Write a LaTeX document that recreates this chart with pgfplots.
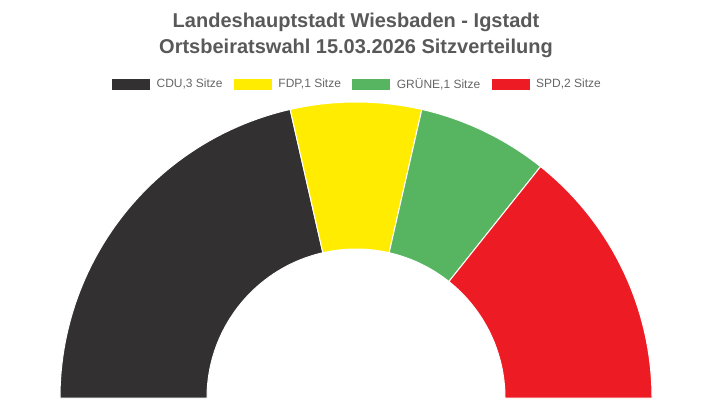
\documentclass[border=0pt]{standalone}
\usepackage{pgfplots}
\pgfplotsset{compat=1.18}
\usepackage{fontspec}
\setmainfont{Liberation Sans}

\definecolor{cducol}{HTML}{323031}
\definecolor{fdpcol}{HTML}{FFEC00}
\definecolor{gruencol}{HTML}{57B562}
\definecolor{spdcol}{HTML}{ED1C24}
\definecolor{titlegray}{HTML}{595959}
\definecolor{legendgray}{HTML}{666666}

\begin{document}
\begin{tikzpicture}
% seats: CDU 3, FDP 1, GRUENE 1, SPD 2 -> 7 seats on 180 degrees
\pgfmathsetmacro{\seatdeg}{180/(3+1+1+2)}
\pgfmathsetmacro{\aCDU}{180-3*\seatdeg}
\pgfmathsetmacro{\aFDP}{\aCDU-1*\seatdeg}
\pgfmathsetmacro{\aGRUEN}{\aFDP-1*\seatdeg}
\def\Ro{296bp}
\def\Ri{149bp}
\begin{axis}[
    x=1bp, y=1bp,
    xmin=0, xmax=712, ymin=0, ymax=400,
    hide axis, clip=false,
    legend image code/.code={\fill[#1] (0bp,-5bp) rectangle (37bp,5bp);},
    legend columns=4,
    legend cell align=left,
    legend style={at={(axis cs:112,316)}, anchor=west, draw=none, fill=none,
        inner sep=0pt, text=legendgray,
        font=\fontsize{12bp}{14bp}\selectfont,
        /tikz/every odd column/.append style={column sep=5bp},
        /tikz/every even column/.append style={column sep=9.5bp}},
]
\path (axis cs:0,0) rectangle (axis cs:712,400);
\coordinate (O) at (axis cs:356,2);

\addlegendimage{cducol}\addlegendentry{CDU,3 Sitze}
\addlegendimage{fdpcol}\addlegendentry{FDP,1 Sitze}
\addlegendimage{gruencol}\addlegendentry{GRÜNE,1 Sitze}
\addlegendimage{spdcol}\addlegendentry{SPD,2 Sitze}

% sectors
\path[fill=cducol, draw=white, line width=1bp]
  ([shift={(180:\Ro)}]O) arc[start angle=180, end angle=\aCDU, radius=\Ro]
  -- ([shift={(\aCDU:\Ri)}]O) arc[start angle=\aCDU, end angle=180, radius=\Ri] -- cycle;
\path[fill=fdpcol, draw=white, line width=1bp]
  ([shift={(\aCDU:\Ro)}]O) arc[start angle=\aCDU, end angle=\aFDP, radius=\Ro]
  -- ([shift={(\aFDP:\Ri)}]O) arc[start angle=\aFDP, end angle=\aCDU, radius=\Ri] -- cycle;
\path[fill=gruencol, draw=white, line width=1bp]
  ([shift={(\aFDP:\Ro)}]O) arc[start angle=\aFDP, end angle=\aGRUEN, radius=\Ro]
  -- ([shift={(\aGRUEN:\Ri)}]O) arc[start angle=\aGRUEN, end angle=\aFDP, radius=\Ri] -- cycle;
\path[fill=spdcol, draw=white, line width=1bp]
  ([shift={(\aGRUEN:\Ro)}]O) arc[start angle=\aGRUEN, end angle=0, radius=\Ro]
  -- ([shift={(0:\Ri)}]O) arc[start angle=0, end angle=\aGRUEN, radius=\Ri] -- cycle;

% title
\node[anchor=base, text=titlegray, font=\fontsize{20bp}{24bp}\selectfont\bfseries]
  at (axis cs:356,373) {Landeshauptstadt Wiesbaden - Igstadt};
\node[anchor=base, text=titlegray, font=\fontsize{20bp}{24bp}\selectfont\bfseries]
  at (axis cs:356,347) {Ortsbeiratswahl 15.03.2026 Sitzverteilung};
\end{axis}
\end{tikzpicture}
\end{document}
